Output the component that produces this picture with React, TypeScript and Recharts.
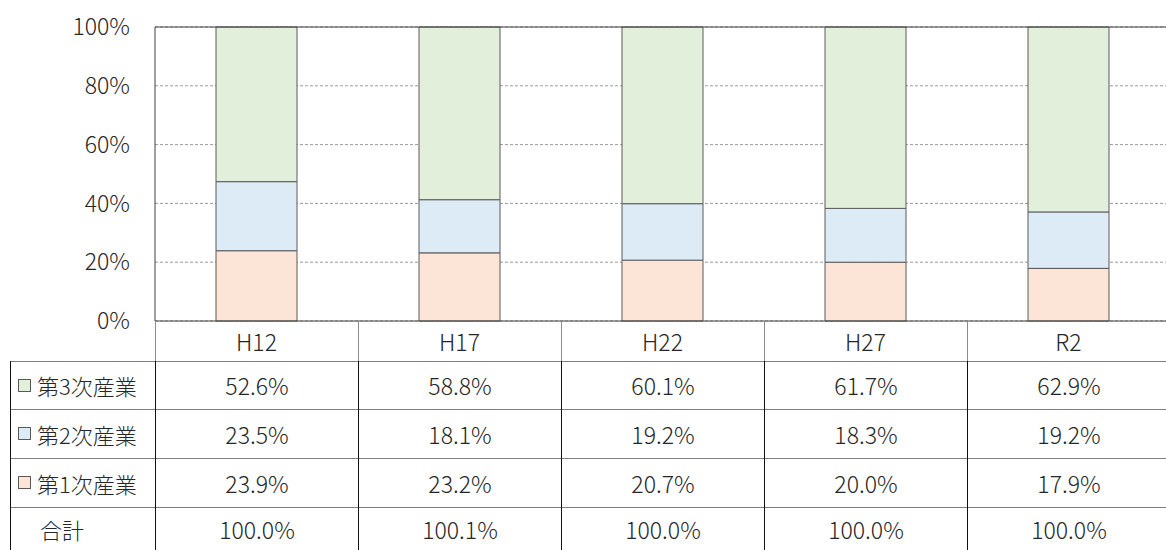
import { BarChart, Bar, XAxis, YAxis, CartesianGrid, ReferenceLine } from 'recharts';

const categories = ['H12', 'H17', 'H22', 'H27', 'R2'];
const tertiary = [52.6, 58.8, 60.1, 61.7, 62.9];
const secondary = [23.5, 18.1, 19.2, 18.3, 19.2];
const primary = [23.9, 23.2, 20.7, 20.0, 17.9];

const COLORS = {
  tertiary: '#E2EFDA',
  secondary: '#DDEBF7',
  primary: '#FCE4D6',
};

const FONT = '"Noto Sans CJK JP", "Noto Sans", sans-serif';
const TEXT = '#262626';
const FS = 23;

const W = 1166;
const CHART_W = 1170;
const PLOT_LEFT = 155;
const PLOT_TOP = 27;
const PLOT_BOTTOM = 321;
const HEADER_BOTTOM = 361;
const BAND = (CHART_W - PLOT_LEFT) / categories.length;

const rows = [
  { label: '第3次産業', color: COLORS.tertiary, values: tertiary },
  { label: '第2次産業', color: COLORS.secondary, values: secondary },
  { label: '第1次産業', color: COLORS.primary, values: primary },
];
const totals = categories.map((_, i) => tertiary[i] + secondary[i] + primary[i]);

const rowTops = [361, 409, 458, 507];
const rowHeights = [48, 49, 49, 43];

export default function App() {
  const data = categories.map((name, i) => ({
    name,
    primary: primary[i],
    secondary: secondary[i],
    tertiary: tertiary[i],
  }));

  const tableRows = [
    ...rows.map(r => ({ label: r.label, color: r.color as string | null, cells: r.values.map(v => `${v.toFixed(1)}%`) })),
    { label: '合計', color: null, cells: totals.map(v => `${v.toFixed(1)}%`) },
  ];

  return (
    <div style={{ position: 'absolute', left: 0, top: 0, width: W, height: 550, background: '#fff', fontFamily: FONT, fontWeight: 300, overflow: 'hidden' }}>
      <BarChart
        width={CHART_W}
        height={HEADER_BOTTOM}
        data={data}
        stackOffset="expand"
        barSize={81}
        margin={{ top: PLOT_TOP, right: 0, bottom: 0, left: 0 }}
      >
        <CartesianGrid vertical={false} stroke="#9a9a9a" strokeDasharray="3 2" />
        <XAxis
          dataKey="name"
          height={HEADER_BOTTOM - PLOT_BOTTOM}
          axisLine={{ stroke: '#404040' }}
          tickLine={false}
          interval={0}
          tick={({ x, payload }: any) => (
            <text x={x} y={(PLOT_BOTTOM + HEADER_BOTTOM) / 2} textAnchor="middle" dominantBaseline="central" fontSize={FS} fill={TEXT} fontFamily={FONT} fontWeight={300}>
              {payload.value}
            </text>
          )}
        />
        <YAxis
          width={PLOT_LEFT}
          domain={[0, 1]}
          ticks={[0, 0.2, 0.4, 0.6, 0.8, 1]}
          tickFormatter={(v: number) => `${Math.round(v * 100)}%`}
          axisLine={{ stroke: '#404040' }}
          tickLine={false}
          tickSize={0}
          tickMargin={25}
          tick={{ fontSize: FS, fill: TEXT, fontFamily: FONT, fontWeight: 300 }}
        />
        <ReferenceLine y={1} stroke="#404040" />
        <Bar dataKey="primary" stackId="a" fill={COLORS.primary} stroke="#5a5a5a" isAnimationActive={false} />
        <Bar dataKey="secondary" stackId="a" fill={COLORS.secondary} stroke="#5a5a5a" isAnimationActive={false} />
        <Bar dataKey="tertiary" stackId="a" fill={COLORS.tertiary} stroke="#5a5a5a" isAnimationActive={false} />
      </BarChart>

      {/* header row separators */}
      {categories.map((c, i) => (
        <div key={`h-${c}`} style={{ position: 'absolute', left: PLOT_LEFT + i * BAND, top: PLOT_BOTTOM, width: 1, height: HEADER_BOTTOM - PLOT_BOTTOM, background: '#8c8c8c' }} />
      ))}

      {/* data table */}
      {tableRows.map((r, ri) => (
        <div key={r.label}>
          <div style={{ position: 'absolute', left: 10, top: rowTops[ri], width: W - 10, height: 1, background: '#7f7f7f' }} />
          <div style={{ position: 'absolute', left: 10, top: rowTops[ri], width: 1, height: rowHeights[ri], background: '#111' }} />
          <div style={{ position: 'absolute', left: 10, top: rowTops[ri], width: PLOT_LEFT - 10, height: rowHeights[ri], display: 'flex', alignItems: 'center', fontSize: FS - 1, color: TEXT, whiteSpace: 'nowrap' }}>
            {r.color ? (
              <span style={{ display: 'inline-block', width: 11, height: 11, background: r.color, border: '1px solid #595959', marginLeft: 8, marginRight: 6, flex: 'none' }} />
            ) : (
              <span style={{ display: 'inline-block', width: 30, flex: 'none' }} />
            )}
            <span>{r.label}</span>
          </div>
          {r.cells.map((cell, ci) => (
            <div key={ci} style={{ position: 'absolute', left: PLOT_LEFT + ci * BAND, top: rowTops[ri], width: BAND, height: rowHeights[ri], display: 'flex', alignItems: 'center', justifyContent: 'center', fontSize: FS, color: TEXT, borderLeft: '1px solid #111', boxSizing: 'border-box' }}>
              {cell}
            </div>
          ))}
        </div>
      ))}
    </div>
  );
}
